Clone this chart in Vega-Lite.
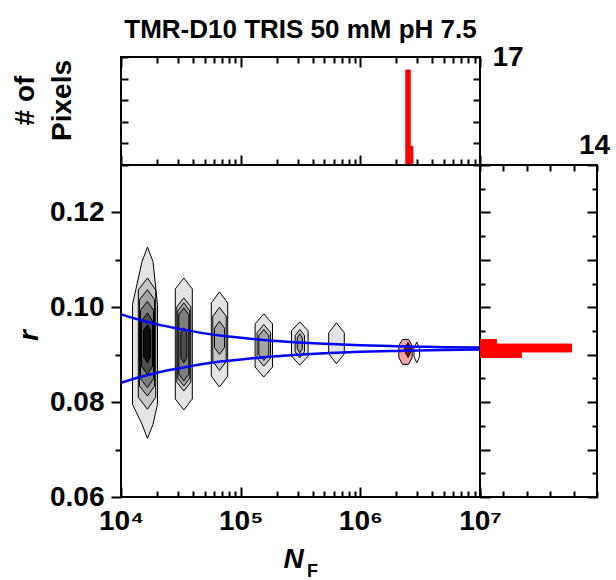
{
  "$schema": "https://vega.github.io/schema/vega-lite/v6.json",
  "background": "white",
  "padding": {"left": 10, "top": 16, "right": 4, "bottom": 2},
  "config": {
    "font": "Liberation Sans",
    "view": {"stroke": "black", "strokeWidth": 2},
    "axis": {
      "grid": false, "domain": false, "tickColor": "black", "tickWidth": 2,
      "labelFont": "Liberation Sans", "labelFontWeight": "bold", "labelFontSize": 28, "labelColor": "black",
      "titleFont": "Liberation Sans", "titleFontWeight": "bold", "titleFontSize": 28, "titleColor": "black",
      "labelOverlap": false, "labelFlush": false, "labelBound": false
    }
  },
  "datasets": {
    "tophist": [
      {"N0": 2385000, "N1": 2626000, "c": 15},
      {"N0": 2626000, "N1": 2765000, "c": 3}
    ],
    "righthist": [
      {"r0": 0.0923, "r1": 0.0933, "c": 2},
      {"r0": 0.0905, "r1": 0.0923, "c": 11},
      {"r0": 0.0893, "r1": 0.0905, "c": 5}
    ],
    "curves": [
      {"N": 10000, "r": 0.0985, "s": "u"}, {"N": 15000, "r": 0.0972, "s": "u"}, {"N": 20000, "r": 0.0964, "s": "u"},
      {"N": 30000, "r": 0.0955, "s": "u"}, {"N": 50000, "r": 0.0945, "s": "u"}, {"N": 70000, "r": 0.0940, "s": "u"},
      {"N": 100000, "r": 0.0936, "s": "u"}, {"N": 200000, "r": 0.0929, "s": "u"}, {"N": 300000, "r": 0.0926, "s": "u"},
      {"N": 500000, "r": 0.0923, "s": "u"}, {"N": 1000000, "r": 0.0920, "s": "u"}, {"N": 2000000, "r": 0.0918, "s": "u"},
      {"N": 3000000, "r": 0.0917, "s": "u"}, {"N": 5000000, "r": 0.0916, "s": "u"}, {"N": 10000000, "r": 0.0915, "s": "u"},
      {"N": 10000, "r": 0.0841, "s": "l"}, {"N": 15000, "r": 0.0854, "s": "l"}, {"N": 20000, "r": 0.0862, "s": "l"},
      {"N": 30000, "r": 0.0871, "s": "l"}, {"N": 50000, "r": 0.0881, "s": "l"}, {"N": 70000, "r": 0.0886, "s": "l"},
      {"N": 100000, "r": 0.0890, "s": "l"}, {"N": 200000, "r": 0.0897, "s": "l"}, {"N": 300000, "r": 0.0900, "s": "l"},
      {"N": 500000, "r": 0.0903, "s": "l"}, {"N": 1000000, "r": 0.0906, "s": "l"}, {"N": 2000000, "r": 0.0908, "s": "l"},
      {"N": 3000000, "r": 0.0909, "s": "l"}, {"N": 5000000, "r": 0.0910, "s": "l"}, {"N": 10000000, "r": 0.0911, "s": "l"}
    ],
    "contours": [
      {"id": "b1a", "lv": "1", "o": 0, "N": 16650, "r": 0.1127},
      {"id": "b1a", "lv": "1", "o": 1, "N": 18510, "r": 0.10961},
      {"id": "b1a", "lv": "1", "o": 2, "N": 20180, "r": 0.10057},
      {"id": "b1a", "lv": "1", "o": 3, "N": 20180, "r": 0.07955},
      {"id": "b1a", "lv": "1", "o": 4, "N": 18510, "r": 0.07534},
      {"id": "b1a", "lv": "1", "o": 5, "N": 16650, "r": 0.07234},
      {"id": "b1a", "lv": "1", "o": 6, "N": 14980, "r": 0.07534},
      {"id": "b1a", "lv": "1", "o": 7, "N": 12470, "r": 0.07955},
      {"id": "b1a", "lv": "1", "o": 8, "N": 12470, "r": 0.10057},
      {"id": "b1a", "lv": "1", "o": 9, "N": 14980, "r": 0.10961},
      {"id": "b1a", "lv": "1", "o": 10, "N": 16650, "r": 0.1127},

      {"id": "b1b", "lv": "2", "o": 0, "N": 16650, "r": 0.10618},
      {"id": "b1b", "lv": "2", "o": 1, "N": 19500, "r": 0.10366},
      {"id": "b1b", "lv": "2", "o": 2, "N": 19500, "r": 0.08102},
      {"id": "b1b", "lv": "2", "o": 3, "N": 16650, "r": 0.0785},
      {"id": "b1b", "lv": "2", "o": 4, "N": 13950, "r": 0.08102},
      {"id": "b1b", "lv": "2", "o": 5, "N": 13950, "r": 0.10366},
      {"id": "b1b", "lv": "2", "o": 6, "N": 16650, "r": 0.10618},

      {"id": "b1c", "lv": "3", "o": 0, "N": 16650, "r": 0.10372},
      {"id": "b1c", "lv": "3", "o": 1, "N": 19050, "r": 0.10162},
      {"id": "b1c", "lv": "3", "o": 2, "N": 19050, "r": 0.08339},
      {"id": "b1c", "lv": "3", "o": 3, "N": 16650, "r": 0.08129},
      {"id": "b1c", "lv": "3", "o": 4, "N": 14277, "r": 0.08339},
      {"id": "b1c", "lv": "3", "o": 5, "N": 14277, "r": 0.10162},
      {"id": "b1c", "lv": "3", "o": 6, "N": 16650, "r": 0.10372},

      {"id": "b1d", "lv": "4", "o": 0, "N": 16650, "r": 0.10126},
      {"id": "b1d", "lv": "4", "o": 1, "N": 18690, "r": 0.09937},
      {"id": "b1d", "lv": "4", "o": 2, "N": 18690, "r": 0.08495},
      {"id": "b1d", "lv": "4", "o": 3, "N": 16650, "r": 0.08306},
      {"id": "b1d", "lv": "4", "o": 4, "N": 14555, "r": 0.08495},
      {"id": "b1d", "lv": "4", "o": 5, "N": 14555, "r": 0.09937},
      {"id": "b1d", "lv": "4", "o": 6, "N": 16650, "r": 0.10126},

      {"id": "b1e", "lv": "5", "o": 0, "N": 16650, "r": 0.09882},
      {"id": "b1e", "lv": "5", "o": 1, "N": 18336, "r": 0.09714},
      {"id": "b1e", "lv": "5", "o": 2, "N": 18336, "r": 0.08754},
      {"id": "b1e", "lv": "5", "o": 3, "N": 16650, "r": 0.08585},
      {"id": "b1e", "lv": "5", "o": 4, "N": 14836, "r": 0.08754},
      {"id": "b1e", "lv": "5", "o": 5, "N": 14836, "r": 0.09714},
      {"id": "b1e", "lv": "5", "o": 6, "N": 16650, "r": 0.09882},

      {"id": "b1f", "lv": "6", "o": 0, "N": 16650, "r": 0.09636},
      {"id": "b1f", "lv": "6", "o": 1, "N": 17640, "r": 0.0951},
      {"id": "b1f", "lv": "6", "o": 2, "N": 17640, "r": 0.08957},
      {"id": "b1f", "lv": "6", "o": 3, "N": 16650, "r": 0.08831},
      {"id": "b1f", "lv": "6", "o": 4, "N": 15417, "r": 0.08957},
      {"id": "b1f", "lv": "6", "o": 5, "N": 15417, "r": 0.0951},
      {"id": "b1f", "lv": "6", "o": 6, "N": 16650, "r": 0.09636},

      {"id": "b2a", "lv": "1", "o": 0, "N": 33480, "r": 0.10618},
      {"id": "b2a", "lv": "1", "o": 1, "N": 39430, "r": 0.10387},
      {"id": "b2a", "lv": "1", "o": 2, "N": 39430, "r": 0.08066},
      {"id": "b2a", "lv": "1", "o": 3, "N": 33480, "r": 0.07835},
      {"id": "b2a", "lv": "1", "o": 4, "N": 28430, "r": 0.08066},
      {"id": "b2a", "lv": "1", "o": 5, "N": 28430, "r": 0.10387},
      {"id": "b2a", "lv": "1", "o": 6, "N": 33480, "r": 0.10618},

      {"id": "b2b", "lv": "2", "o": 0, "N": 33480, "r": 0.10198},
      {"id": "b2b", "lv": "2", "o": 1, "N": 38310, "r": 0.10009},
      {"id": "b2b", "lv": "2", "o": 2, "N": 38310, "r": 0.08423},
      {"id": "b2b", "lv": "2", "o": 3, "N": 33480, "r": 0.08234},
      {"id": "b2b", "lv": "2", "o": 4, "N": 29260, "r": 0.08423},
      {"id": "b2b", "lv": "2", "o": 5, "N": 29260, "r": 0.10009},
      {"id": "b2b", "lv": "2", "o": 6, "N": 33480, "r": 0.10198},

      {"id": "b2c", "lv": "3", "o": 0, "N": 33480, "r": 0.10093},
      {"id": "b2c", "lv": "3", "o": 1, "N": 37580, "r": 0.09924},
      {"id": "b2c", "lv": "3", "o": 2, "N": 37580, "r": 0.08508},
      {"id": "b2c", "lv": "3", "o": 3, "N": 33480, "r": 0.08339},
      {"id": "b2c", "lv": "3", "o": 4, "N": 29830, "r": 0.08508},
      {"id": "b2c", "lv": "3", "o": 5, "N": 29830, "r": 0.09924},
      {"id": "b2c", "lv": "3", "o": 6, "N": 33480, "r": 0.10093},

      {"id": "b2d", "lv": "4", "o": 0, "N": 33480, "r": 0.09988},
      {"id": "b2d", "lv": "4", "o": 1, "N": 36870, "r": 0.0984},
      {"id": "b2d", "lv": "4", "o": 2, "N": 36870, "r": 0.08592},
      {"id": "b2d", "lv": "4", "o": 3, "N": 33480, "r": 0.08445},
      {"id": "b2d", "lv": "4", "o": 4, "N": 30410, "r": 0.08592},
      {"id": "b2d", "lv": "4", "o": 5, "N": 30410, "r": 0.0984},
      {"id": "b2d", "lv": "4", "o": 6, "N": 33480, "r": 0.09988},

      {"id": "b2e", "lv": "5", "o": 0, "N": 33480, "r": 0.09567},
      {"id": "b2e", "lv": "5", "o": 1, "N": 35470, "r": 0.09462},
      {"id": "b2e", "lv": "5", "o": 2, "N": 35470, "r": 0.08936},
      {"id": "b2e", "lv": "5", "o": 3, "N": 33480, "r": 0.08831},
      {"id": "b2e", "lv": "5", "o": 4, "N": 31600, "r": 0.08936},
      {"id": "b2e", "lv": "5", "o": 5, "N": 31600, "r": 0.09462},
      {"id": "b2e", "lv": "5", "o": 6, "N": 33480, "r": 0.09567},

      {"id": "b3a", "lv": "1", "o": 0, "N": 66550, "r": 0.10324},
      {"id": "b3a", "lv": "1", "o": 1, "N": 77920, "r": 0.10093},
      {"id": "b3a", "lv": "1", "o": 2, "N": 77920, "r": 0.0855},
      {"id": "b3a", "lv": "1", "o": 3, "N": 66550, "r": 0.08318},
      {"id": "b3a", "lv": "1", "o": 4, "N": 56840, "r": 0.0855},
      {"id": "b3a", "lv": "1", "o": 5, "N": 56840, "r": 0.10093},
      {"id": "b3a", "lv": "1", "o": 6, "N": 66550, "r": 0.10324},

      {"id": "b3b", "lv": "2", "o": 0, "N": 66550, "r": 0.1},
      {"id": "b3b", "lv": "2", "o": 1, "N": 75700, "r": 0.09811},
      {"id": "b3b", "lv": "2", "o": 2, "N": 75700, "r": 0.08859},
      {"id": "b3b", "lv": "2", "o": 3, "N": 66550, "r": 0.08669},
      {"id": "b3b", "lv": "2", "o": 4, "N": 58500, "r": 0.08859},
      {"id": "b3b", "lv": "2", "o": 5, "N": 58500, "r": 0.09811},
      {"id": "b3b", "lv": "2", "o": 6, "N": 66550, "r": 0.1},

      {"id": "b3c", "lv": "3", "o": 0, "N": 66550, "r": 0.09706},
      {"id": "b3c", "lv": "3", "o": 1, "N": 73270, "r": 0.09559},
      {"id": "b3c", "lv": "3", "o": 2, "N": 73270, "r": 0.09153},
      {"id": "b3c", "lv": "3", "o": 3, "N": 66550, "r": 0.09006},
      {"id": "b3c", "lv": "3", "o": 4, "N": 60440, "r": 0.09153},
      {"id": "b3c", "lv": "3", "o": 5, "N": 60440, "r": 0.09559},
      {"id": "b3c", "lv": "3", "o": 6, "N": 66550, "r": 0.09706},

      {"id": "b4a", "lv": "1", "o": 0, "N": 156060, "r": 0.09861},
      {"id": "b4a", "lv": "1", "o": 1, "N": 184500, "r": 0.09651},
      {"id": "b4a", "lv": "1", "o": 2, "N": 184500, "r": 0.08739},
      {"id": "b4a", "lv": "1", "o": 3, "N": 156060, "r": 0.08529},
      {"id": "b4a", "lv": "1", "o": 4, "N": 132000, "r": 0.08739},
      {"id": "b4a", "lv": "1", "o": 5, "N": 132000, "r": 0.09651},
      {"id": "b4a", "lv": "1", "o": 6, "N": 156060, "r": 0.09861},

      {"id": "b4b", "lv": "2", "o": 0, "N": 156060, "r": 0.09636},
      {"id": "b4b", "lv": "2", "o": 1, "N": 177600, "r": 0.09468},
      {"id": "b4b", "lv": "2", "o": 2, "N": 177600, "r": 0.08928},
      {"id": "b4b", "lv": "2", "o": 3, "N": 156060, "r": 0.0876},
      {"id": "b4b", "lv": "2", "o": 4, "N": 137200, "r": 0.08928},
      {"id": "b4b", "lv": "2", "o": 5, "N": 137200, "r": 0.09468},
      {"id": "b4b", "lv": "2", "o": 6, "N": 156060, "r": 0.09636},

      {"id": "b4c", "lv": "3", "o": 0, "N": 156060, "r": 0.09531},
      {"id": "b4c", "lv": "3", "o": 1, "N": 171800, "r": 0.09405},
      {"id": "b4c", "lv": "3", "o": 2, "N": 171800, "r": 0.09006},
      {"id": "b4c", "lv": "3", "o": 3, "N": 156060, "r": 0.0888},
      {"id": "b4c", "lv": "3", "o": 4, "N": 141750, "r": 0.09006},
      {"id": "b4c", "lv": "3", "o": 5, "N": 141750, "r": 0.09405},
      {"id": "b4c", "lv": "3", "o": 6, "N": 156060, "r": 0.09531},

      {"id": "b5a", "lv": "1", "o": 0, "N": 311950, "r": 0.09693},
      {"id": "b5a", "lv": "1", "o": 1, "N": 366000, "r": 0.09504},
      {"id": "b5a", "lv": "1", "o": 2, "N": 366000, "r": 0.0897},
      {"id": "b5a", "lv": "1", "o": 3, "N": 311950, "r": 0.08781},
      {"id": "b5a", "lv": "1", "o": 4, "N": 266000, "r": 0.0897},
      {"id": "b5a", "lv": "1", "o": 5, "N": 266000, "r": 0.09504},
      {"id": "b5a", "lv": "1", "o": 6, "N": 311950, "r": 0.09693},

      {"id": "b5b", "lv": "2", "o": 0, "N": 311950, "r": 0.09531},
      {"id": "b5b", "lv": "2", "o": 1, "N": 341500, "r": 0.09405},
      {"id": "b5b", "lv": "2", "o": 2, "N": 341500, "r": 0.09063},
      {"id": "b5b", "lv": "2", "o": 3, "N": 311950, "r": 0.08936},
      {"id": "b5b", "lv": "2", "o": 4, "N": 285000, "r": 0.09063},
      {"id": "b5b", "lv": "2", "o": 5, "N": 285000, "r": 0.09405},
      {"id": "b5b", "lv": "2", "o": 6, "N": 311950, "r": 0.09531},

      {"id": "b5c", "lv": "3", "o": 0, "N": 311950, "r": 0.09441},
      {"id": "b5c", "lv": "3", "o": 1, "N": 327300, "r": 0.09357},
      {"id": "b5c", "lv": "3", "o": 2, "N": 327300, "r": 0.09126},
      {"id": "b5c", "lv": "3", "o": 3, "N": 311950, "r": 0.09042},
      {"id": "b5c", "lv": "3", "o": 4, "N": 297300, "r": 0.09126},
      {"id": "b5c", "lv": "3", "o": 5, "N": 297300, "r": 0.09357},
      {"id": "b5c", "lv": "3", "o": 6, "N": 311950, "r": 0.09441},

      {"id": "b6a", "lv": "1", "o": 0, "N": 632100, "r": 0.09672},
      {"id": "b6a", "lv": "1", "o": 1, "N": 734500, "r": 0.09462},
      {"id": "b6a", "lv": "1", "o": 2, "N": 734500, "r": 0.0902},
      {"id": "b6a", "lv": "1", "o": 3, "N": 632100, "r": 0.0881},
      {"id": "b6a", "lv": "1", "o": 4, "N": 544000, "r": 0.0902},
      {"id": "b6a", "lv": "1", "o": 5, "N": 544000, "r": 0.09462},
      {"id": "b6a", "lv": "1", "o": 6, "N": 632100, "r": 0.09672},

      {"id": "pk", "lv": "p", "o": 0, "N": 2250300, "r": 0.09321},
      {"id": "pk", "lv": "p", "o": 1, "N": 2526200, "r": 0.09321},
      {"id": "pk", "lv": "p", "o": 2, "N": 2712200, "r": 0.09195},
      {"id": "pk", "lv": "p", "o": 3, "N": 2712200, "r": 0.08943},
      {"id": "pk", "lv": "p", "o": 4, "N": 2526200, "r": 0.08796},
      {"id": "pk", "lv": "p", "o": 5, "N": 2250300, "r": 0.08796},
      {"id": "pk", "lv": "p", "o": 6, "N": 2096200, "r": 0.08943},
      {"id": "pk", "lv": "p", "o": 7, "N": 2096200, "r": 0.09195},
      {"id": "pk", "lv": "p", "o": 8, "N": 2250300, "r": 0.09321},

      {"id": "dk", "lv": "q", "o": 0, "N": 2502100, "r": 0.09258},
      {"id": "dk", "lv": "q", "o": 1, "N": 2702300, "r": 0.091},
      {"id": "dk", "lv": "q", "o": 2, "N": 2502100, "r": 0.08943},
      {"id": "dk", "lv": "q", "o": 3, "N": 2316500, "r": 0.091},
      {"id": "dk", "lv": "q", "o": 4, "N": 2502100, "r": 0.09258},

      {"id": "sm", "lv": "w", "o": 0, "N": 2963200, "r": 0.09264},
      {"id": "sm", "lv": "w", "o": 1, "N": 3127400, "r": 0.09138},
      {"id": "sm", "lv": "w", "o": 2, "N": 3127400, "r": 0.08957},
      {"id": "sm", "lv": "w", "o": 3, "N": 2963200, "r": 0.08831},
      {"id": "sm", "lv": "w", "o": 4, "N": 2807900, "r": 0.08957},
      {"id": "sm", "lv": "w", "o": 5, "N": 2807900, "r": 0.09138},
      {"id": "sm", "lv": "w", "o": 6, "N": 2963200, "r": 0.09264}
    ]
  },
  "spacing": 0,
  "bounds": "flush",
  "vconcat": [
    {
      "width": 359,
      "height": 108,
      "title": {"text": "TMR-D10 TRIS 50 mM pH 7.5", "font": "Liberation Sans", "fontSize": 26, "fontWeight": "bold", "color": "black", "anchor": "middle", "frame": "group", "baseline": "alphabetic", "offset": -21},
      "data": {"name": "tophist"},
      "layer": [
        {
          "mark": {"type": "rect", "color": "#ff0000"},
          "encoding": {
            "x": {"field": "N0", "type": "quantitative", "scale": {"type": "log", "domain": [10000, 10000000]},
              "axis": {"orient": "top", "values": [10000,20000,30000,40000,50000,60000,70000,80000,90000,100000,200000,300000,400000,500000,600000,700000,800000,900000,1000000,2000000,3000000,4000000,5000000,6000000,7000000,8000000,9000000,10000000],
                "labels": false, "title": null,
                "tickSize": {"condition": {"test": "datum.value == 10000 || datum.value == 100000 || datum.value == 1000000 || datum.value == 10000000", "value": -10}, "value": -6}}},
            "x2": {"field": "N1"},
            "y": {"field": "c", "type": "quantitative", "scale": {"domain": [0, 17]},
              "axis": {"orient": "left", "values": [0, 3.4, 6.8, 10.2, 13.6, 17], "labels": false, "tickSize": -7,
                "title": ["# of", "Pixels"], "titleX": -88, "titleY": 43, "titleAlign": "center", "titleBaseline": "alphabetic", "titleAngle": 270, "titleLineHeight": 37}},
            "y2": {"datum": 0}
          }
        },
        {
          "mark": {"type": "rect", "color": "#ff0000"},
          "encoding": {
            "x": {"field": "N0", "type": "quantitative", "scale": {"type": "log", "domain": [10000, 10000000]},
              "axis": {"orient": "bottom", "values": [10000,20000,30000,40000,50000,60000,70000,80000,90000,100000,200000,300000,400000,500000,600000,700000,800000,900000,1000000,2000000,3000000,4000000,5000000,6000000,7000000,8000000,9000000,10000000],
                "labels": false, "title": null,
                "tickSize": {"condition": {"test": "datum.value == 10000 || datum.value == 100000 || datum.value == 1000000 || datum.value == 10000000", "value": -10}, "value": -6}}},
            "x2": {"field": "N1"},
            "y": {"field": "c", "type": "quantitative", "scale": {"domain": [0, 17]},
              "axis": {"orient": "right", "values": [0, 3.4, 6.8, 10.2, 13.6, 17], "labelExpr": "datum.value == 17 ? '17' : ''", "tickSize": -7, "labelPadding": 19, "labelBaseline": "alphabetic", "labelOffset": 8, "labelAlign": "left", "title": null}},
            "y2": {"datum": 0}
          }
        }
      ],
      "resolve": {"axis": {"x": "independent", "y": "independent"}}
    },
    {
      "spacing": 0,
      "bounds": "flush",
      "hconcat": [
        {
          "width": 359,
          "height": 332,
          "layer": [
            {
              "data": {"name": "contours"},
              "mark": {"type": "line", "stroke": "black", "strokeWidth": 1, "interpolate": "linear"},
              "encoding": {
                "x": {"field": "N", "type": "quantitative", "scale": {"type": "log", "domain": [10000, 10000000]},
                  "axis": {"orient": "bottom", "values": [10000,20000,30000,40000,50000,60000,70000,80000,90000,100000,200000,300000,400000,500000,600000,700000,800000,900000,1000000,2000000,3000000,4000000,5000000,6000000,7000000,8000000,9000000,10000000],
                    "labelExpr": "datum.value == 10000 ? '10⁴' : datum.value == 100000 ? '10⁵' : datum.value == 1000000 ? '10⁶' : datum.value == 10000000 ? '10⁷' : ''",
                    "tickSize": {"condition": {"test": "datum.value == 10000 || datum.value == 100000 || datum.value == 1000000 || datum.value == 10000000", "value": -10}, "value": -6},
                    "labelPadding": 20, "labelBaseline": "top", "labelAlign": "center",
                    "title": "N", "titleFontStyle": "italic", "titleX": 172, "titleY": 70, "titleAlign": "center", "titleBaseline": "alphabetic"}},
                "y": {"field": "r", "type": "quantitative", "scale": {"domain": [0.06, 0.13]},
                  "axis": {"orient": "left", "values": [0.06, 0.07, 0.08, 0.09, 0.1, 0.11, 0.12],
                    "labelExpr": "round(datum.value*100) % 2 == 0 ? format(datum.value, '.2f') : ''",
                    "tickSize": {"condition": {"test": "round(datum.value*100) % 2 == 0", "value": 10}, "value": 6},
                    "labelPadding": 7,
                    "title": "r", "titleFontStyle": "italic", "titleX": -84, "titleY": 170, "titleAlign": "center", "titleBaseline": "alphabetic", "titleAngle": 270}},
                "detail": {"field": "id"},
                "order": {"field": "o", "type": "quantitative"},
                "fill": {"field": "lv", "type": "nominal", "legend": null,
                  "scale": {"domain": ["1", "2", "3", "4", "5", "6", "p", "q", "w"],
                    "range": ["#e4e4e4", "#c6c6c6", "#a4a4a4", "#7e7e7e", "#4d4d4d", "#0d0d0d", "#f5a3a3", "#7f0d0d", "#ffffff"]}}
              }
            },
            {
              "data": {"name": "curves"},
              "mark": {"type": "line", "color": "#0000ff", "strokeWidth": 2.5, "interpolate": "monotone"},
              "encoding": {
                "x": {"field": "N", "type": "quantitative", "scale": {"type": "log", "domain": [10000, 10000000]},
                  "axis": {"orient": "bottom", "ticks": false, "labels": false, "domain": false,
                    "title": "F", "titleFontSize": 18, "titleX": 191, "titleY": 79, "titleAlign": "center", "titleBaseline": "alphabetic"}},
                "y": {"field": "r", "type": "quantitative", "axis": null},
                "detail": {"field": "s"}
              }
            }
          ],
          "resolve": {"axis": {"x": "independent", "y": "independent"}}
        },
        {
          "width": 117,
          "height": 332,
          "data": {"name": "righthist"},
          "layer": [
            {
              "mark": {"type": "rect", "color": "#ff0000"},
              "encoding": {
                "y": {"field": "r0", "type": "quantitative", "scale": {"domain": [0.06, 0.13]},
                  "axis": {"orient": "left", "values": [0.06,0.065,0.07,0.075,0.08,0.085,0.09,0.095,0.1,0.105,0.11,0.115,0.12,0.125,0.13], "labels": false, "title": null,
                    "tickSize": {"condition": {"test": "abs(datum.value*100 - round(datum.value*100)) < 0.01", "value": -10}, "value": -5}}},
                "y2": {"field": "r1"},
                "x": {"field": "c", "type": "quantitative", "scale": {"domain": [0, 14]},
                  "axis": {"orient": "bottom", "values": [0, 2.8, 5.6, 8.4, 11.2, 14], "labels": false, "title": null, "tickSize": -6}},
                "x2": {"datum": 0}
              }
            },
            {
              "mark": {"type": "rect", "color": "#ff0000"},
              "encoding": {
                "y": {"field": "r0", "type": "quantitative", "scale": {"domain": [0.06, 0.13]},
                  "axis": {"orient": "right", "values": [0.06,0.065,0.07,0.075,0.08,0.085,0.09,0.095,0.1,0.105,0.11,0.115,0.12,0.125,0.13], "labels": false, "title": null,
                    "tickSize": {"condition": {"test": "abs(datum.value*100 - round(datum.value*100)) < 0.01", "value": -10}, "value": -5}}},
                "y2": {"field": "r1"},
                "x": {"field": "c", "type": "quantitative", "scale": {"domain": [0, 14]},
                  "axis": {"orient": "top", "values": [0, 2.8, 5.6, 8.4, 11.2, 14], "labelExpr": "datum.value == 14 ? '14' : ''", "tickSize": -6, "labelPadding": 18, "labelBaseline": "alphabetic", "labelAlign": "center", "labelOffset": -3, "title": null}},
                "x2": {"datum": 0}
              }
            }
          ],
          "resolve": {"axis": {"x": "independent", "y": "independent"}}
        }
      ]
    }
  ]
}
